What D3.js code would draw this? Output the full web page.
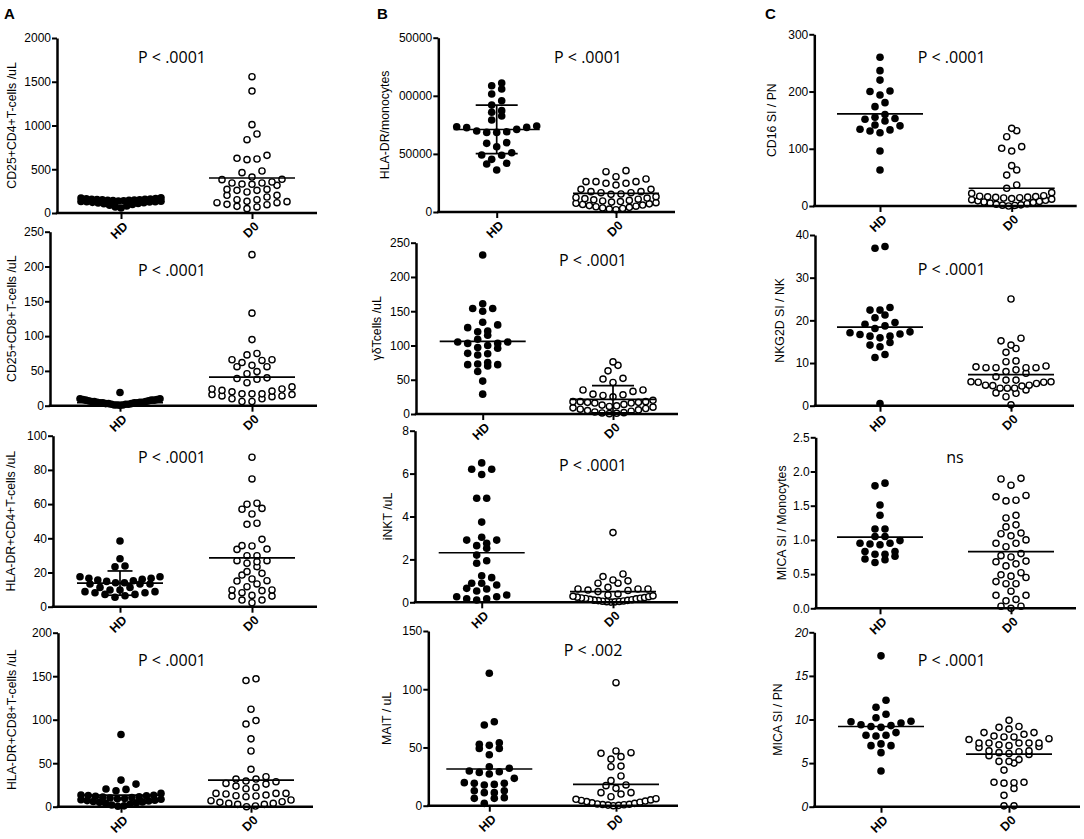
<!DOCTYPE html>
<html><head><meta charset="utf-8">
<script src="https://cdn.jsdelivr.net/npm/d3@7/dist/d3.min.js"></script>
<style>body{margin:0;background:#fff}svg{display:block}</style>
</head><body>
<script>
// ---------------- DATA ----------------
const categories = ["HD", "D0"];

// Panel A
const a1HD = [172,175,165,162,160,158,156,154,152,150,148,146,144,142,140,138,135,132,130,128,125,122,118,114,110,105,98,90,80,70,58];
const a1D0 = [1558,1394,1010,903,838,625,610,617,659,480,461,411,381,343,331,316,328,343,354,385,270,259,240,202,183,202,259,270,152,133,118,95,76,50,69,99,118,130,152];
const a1Means = [126, 400];
const a1Ticks = [0,500,1000,1500,2000];

const a2HD = [19,10,10,9,9,8,8,8,7,7,6,6,6,5,5,5,4,4,4,4,3,3,3,2,2,2,1,1,1,0.5];
const a2D0 = [217,133,95,73,75,66,62,56,56,58,65,66,49,46,40,38,39,27,24,21,20,22,24,33,17,16,14,13,10,6,6,10,14,16,17,17];
const a2Means = [4.5, 41];
const a2Ticks = [0,50,100,150,200,250];

const a3HD = [38.4,28,23.4,23.8,17.5,16.6,16,15.2,14,13.3,13.3,13.3,14,14.8,15.6,16.6,17.5,11.3,9.8,8.8,8.2,7.2,5.5,6.4,7.2,8.2,8.8,9.8,11.3];
const a3D0 = [87.4,74.7,59.9,57,54.2,57.5,60.5,48.2,48.8,39.4,35.5,33.5,33.7,35.7,29.8,29.8,26.9,25.4,23.4,26.3,26.9,19.5,18.5,20.5,16.2,15,11.7,13.3,15.2,8.2,6.2,9.8,9.4,9.8,6.2,6.6,3.9,2.3,3.9];
const a3Means = [13.8, 28.5];
const a3HDsd = [6.7, 20.9];
const a3Ticks = [0,20,40,60,80,100];

const a4HD = [83,30.6,20.3,18.4,15.3,19.9,26,13.5,13,12.8,12.5,12,11.5,11,10.5,10,9.5,9,8.5,8,7.5,7,6.5,6,5.5,5,4.5,4,3,2,1,0.5];
const a4D0 = [145,147,112,95,99,78,64,43,34.5,31.8,28.7,26,26.8,29.5,31.8,22.2,15.3,14.6,12.6,13.4,15.3,15.3,20.7,23.7,12.3,7.7,5.7,3.8,2.7,0.8,0,2.7,3.8,5,6.9,11.5];
const a4Means = [13.4, 30.6];
const a4Ticks = [0,50,100,150,200];

// Panel B
const b1HD = [108700,111000,101500,105800,95800,92000,85800,87200,82600,79200,73400,72600,69100,68500,71100,68500,69700,72800,74000,59100,59700,56200,51000,49000,48800,45300,41900,41300,36100];
const b1D0 = [35600,34700,28400,26100,24700,23200,24700,26100,26100,30400,19500,17500,16600,15200,13200,15500,16600,17500,19500,12500,12000,11500,11000,10500,10000,9500,9000,8500,8000,7500,7000,6500,6000,5500,5000,4500,4000,3500,3000,2500,2000];
const b1Means = [71000, 16000];
const b1HDsd = [50200, 92000];
const b1Ticks = [0,50000,100000,150000];
const b1TickLabels = ["0","50000","00000","50000"];

const b2HD = [232,154,150,154,161,130,121,120,126,134,109,105,103,103,105,115,100,96,97,88.5,86,88,75,72,70,72,73,62,48,29];
const b2D0 = [71,76,52,51,63,46,35,33,35,29,27,25,28,17,16,20,18,18,18,16,17,14,13,12,11,10,9,8,7,6,5,4,3,2,1.5,1,0.5];
const b2Means = [106, 21.4];
const b2D0sd = [1.5, 41.3];
const b2Ticks = [0,50,100,150,200,250];

const b3HD = [6.5,6.2,6.2,5.96,4.85,4.85,3.74,2.9,2.75,3.03,2.9,2.64,2.52,2.2,1.94,1.82,1.15,1.24,0.89,0.65,0.62,0.81,0.89,0.53,0.34,0.26,0.16,0.11,0.16,0.26];
const b3D0 = [3.25,1.2,1.32,1.0,0.89,0.89,1.04,0.7,0.62,0.57,0.5,0.62,0.62,0.55,0.34,0.39,0.3,0.28,0.26,0.24,0.22,0.2,0.19,0.18,0.16,0.14,0.12,0.1,0.09,0.08,0.06,0.05,0.04,0.03,0.02,0.01];
const b3Means = [2.31, 0.5];
const b3Ticks = [0,2,4,6,8];

const b4HD = [113.7,69.3,72.1,52.7,49.2,54.1,49.2,51.8,43.8,32.1,33.5,29.2,28.6,29.8,27.2,23.5,18.3,19.2,19.2,19.8,17.8,12.9,11.2,11.2,12.9,6.3,6.3,6.9,2];
const b4D0 = [105.6,42.1,47,45,45.5,40,34,33.5,25.5,21.5,17.8,17.2,14.9,11.2,7.7,10,11.2,6,5.5,5,4.5,4,3.5,3,2.5,2,1.5,1.2,1,0.8,0.5,0.3,0];
const b4Means = [31.5, 18.3];
const b4Ticks = [0,50,100,150];

// Panel C
const c1HD = [260,236.5,220,200,194,201,173.6,180.6,155,151.5,148.5,153,160,140,133,128,131,134,141.5,96,63];
const c1D0 = [135.7,131.6,121,100.8,96,103.7,70.5,54,63,36.7,30.9,22,18,23.3,17,16.5,16,15.5,15,14.5,14,13,12,11,10,9,8,7,6,5,4,3,2,1.5,1,0];
const c1Means = [161, 31];
const c1Ticks = [0,100,200,300];

const c2HD = [36.9,37.3,23,22.4,22.4,21.25,20.6,19.1,19.5,18.7,18.1,17.3,17.1,16.8,16.3,16.3,15.9,16.7,14.8,13.8,14.2,12,11.3,0.5];
const c2D0 = [25,15.8,15.2,14.2,13.4,12.5,10.3,10.5,9.3,8.9,8.9,8.4,8,8.9,8.9,9.1,7.6,6.8,6,5.6,5.5,5.2,5.5,5.6,6,4.8,4.7,4.1,4.1,3,2.1,2.9,3.7,4.1,4.6,4.8,0.2];
const c2Means = [18.4, 7.3];
const c2Ticks = [0,10,20,30,40];

const c3HD = [1.83,1.79,1.51,1.36,1.16,1.16,1.05,0.99,1.05,0.95,0.93,0.94,0.95,0.79,0.83,0.83,0.79,0.72,0.67,0.71,0.76];
const c3D0 = [1.89,1.9,1.8,1.63,1.57,1.58,1.65,1.36,1.32,1.19,1.22,1.09,1.1,1.06,1.0,0.95,0.9,0.95,0.8,0.75,0.77,0.69,0.62,0.68,0.65,0.52,0.47,0.39,0.36,0.36,0.45,0.49,0.25,0.19,0.19,0.13,0.11,0.03,0,0.03];
const c3Means = [1.04, 0.83];
const c3Ticks = [0,0.5,1.0,1.5,2.0,2.5];

const c4HD = [17.3,12.2,11.4,10.6,10.2,9.8,9.6,9.75,9.3,9.1,9.4,9.2,8.5,8.2,8.1,8.2,7.2,7.0,7.0,6.2,4.1];
const c4D0 = [9.9,9.2,8.9,9.1,8.3,8,7.8,7.3,7.3,7.1,7.3,8.5,8.5,7.3,7.3,7.7,8,8.1,6.9,6.4,6.2,6,5.85,6.1,6.3,6.4,6.8,7,5.2,5,5.2,5.4,4.2,2.8,2.7,2.1,2.75,2.8,1.3,0.1,0.1];
const c4Means = [9.2, 6.04];
const c4Ticks = [0,5,10,15,20];

const yTitles = ["CD25+CD4+T-cells /uL","CD25+CD8+T-cells /uL","HLA-DR+CD4+T-cells /uL","HLA-DR+CD8+T-cells /uL",
                 "HLA-DR/monocytes","γδTcells /uL","iNKT /uL","MAIT / uL",
                 "CD16 SI / PN","NKG2D SI / NK","MICA SI / Monocytes","MICA SI / PN"];
const pTexts = ["P < .0001","P < .0001","P < .0001","P < .0001",
                "P < .0001","P < .0001","P < .0001","P < .002",
                "P < .0001","P < .0001","ns","P < .0001"];
const panelLetters = ["A","B","C"];

// ---------------- LAYOUT ----------------
const panels = [
 {hd:a1HD,d0:a1D0,means:a1Means,ticks:a1Ticks,domain:[0,2000],ax:57,top:38,bot:213,xEnd:317,hdX:121,d0X:252,px:172,py:63,tx:12},
 {hd:a2HD,d0:a2D0,means:a2Means,ticks:a2Ticks,domain:[0,250],ax:50,top:231.7,bot:405.7,xEnd:317,hdX:120,d0X:252,px:172,py:275.7,tx:12},
 {hd:a3HD,d0:a3D0,means:a3Means,ticks:a3Ticks,domain:[0,100],ax:53,top:435.7,bot:606.7,xEnd:317,hdX:120,d0X:252,px:172,py:463,tx:11,sd:{HD:a3HDsd},cap:12.5},
 {hd:a4HD,d0:a4D0,means:a4Means,ticks:a4Ticks,domain:[0,200],ax:58,top:632.7,bot:806.7,xEnd:313,hdX:121,d0X:251,px:172,py:666,tx:12},
 {hd:b1HD,d0:b1D0,means:b1Means,ticks:b1Ticks,labels:b1TickLabels,domain:[0,150000],ax:438.3,top:37.7,bot:212,xEnd:675,hdX:496.7,d0X:616,px:588,py:63,tx:385,sd:{HD:b1HDsd},cap:21},
 {hd:b2HD,d0:b2D0,means:b2Means,ticks:b2Ticks,domain:[0,250],ax:416,top:242.7,bot:414,xEnd:678,hdX:482.7,d0X:613,px:593,py:266,tx:377,sd:{D0:b2D0sd},cap:21},
 {hd:b3HD,d0:b3D0,means:b3Means,ticks:b3Ticks,domain:[0,8],ax:415,top:430.7,bot:602.3,xEnd:678,hdX:481.7,d0X:613,px:593,py:470.7,tx:388},
 {hd:b4HD,d0:b4D0,means:b4Means,ticks:b4Ticks,domain:[0,150],ax:428.3,top:631,bot:805.7,xEnd:678,hdX:489.3,d0X:616,px:593,py:656,tx:387},
 {hd:c1HD,d0:c1D0,means:c1Means,ticks:c1Ticks,domain:[0,300],ax:814.3,top:34.3,bot:206,xEnd:1076.7,hdX:880,d0X:1011.7,px:951.7,py:62.7,tx:772},
 {hd:c2HD,d0:c2D0,means:c2Means,ticks:c2Ticks,domain:[0,40],ax:815,top:235,bot:405.7,xEnd:1074,hdX:880,d0X:1011,px:951.7,py:275.3,tx:780},
 {hd:c3HD,d0:c3D0,means:c3Means,ticks:c3Ticks,domain:[0,2.5],ax:815.7,top:437.3,bot:608.3,xEnd:1076,hdX:880,d0X:1011,px:955,py:463.3,tx:782,fmt:".1f"},
 {hd:c4HD,d0:c4D0,means:c4Means,ticks:c4Ticks,domain:[0,20],ax:814.3,top:632.3,bot:806.7,xEnd:1080,hdX:881,d0X:1009,px:951.7,py:666,tx:778,italic:true}
];
const letterPos = [[4,19],[377,19],[765,19]];

const FONT = "'Liberation Sans', Arial, sans-serif";
const AXW = 2.5;
const svg = d3.select("body").append("svg").attr("width",1084).attr("height",839);
svg.append("rect").attr("width",1084).attr("height",839).attr("fill","#fff");

// GraphPad-like scatter layout: group values into rows, spread each row around the category centre
function swarm(values, y, spacing, maxHalf, thresh) {
  const pts = values.map(v => ({v, py: y(v)})).sort((a,b) => a.v - b.v);
  const bins = [];
  let cur = null;
  pts.forEach(p => {
    if (cur && (cur[0].py - p.py) < thresh) cur.push(p);
    else { cur = [p]; bins.push(cur); }
  });
  const out = [];
  bins.forEach(bin => {
    const n = bin.length;
    const s = n > 1 ? Math.min(spacing, 2*maxHalf/(n-1)) : 0;
    const slots = d3.range(n).map(i => (i - (n-1)/2) * s);
    slots.sort((a,b) => Math.abs(a) - Math.abs(b) || a - b);
    bin.forEach((p,i) => out.push({v:p.v, py:p.py, dx:slots[i]}));
  });
  return out;
}

panels.forEach((P, k) => {
  const g = svg.append("g");
  const y = d3.scaleLinear().domain(P.domain).range([P.bot, P.top]);
  const x = d3.scalePoint().domain(categories).range([P.hdX, P.d0X]);
  const fmt = P.fmt ? d3.format(P.fmt) : d3.format("d");

  // points
  [["HD",P.hd],["D0",P.d0]].forEach(([cat, vals]) => {
    const pts = swarm(vals, y, 10, 40, 7);
    const filled = cat === "HD";
    g.append("g").selectAll("circle").data(pts).join("circle")
      .attr("cx", d => x(cat) + d.dx).attr("cy", d => y(d.v))
      .attr("r", filled ? 3.8 : 3.1)
      .attr("fill", filled ? "#000" : "#fff")
      .attr("stroke", "#000").attr("stroke-width", filled ? 0 : 1.4);
  });

  // mean lines
  categories.forEach((cat, i) => {
    const m = P.means[i];
    g.append("line").attr("x1", x(cat)-43).attr("x2", x(cat)+43).attr("y1", y(m)).attr("y2", y(m))
      .attr("stroke","#000").attr("stroke-width",1.7);
    if (P.sd && P.sd[cat]) {
      const [lo, hi] = P.sd[cat];
      g.append("line").attr("x1",x(cat)).attr("x2",x(cat)).attr("y1",y(lo)).attr("y2",y(hi))
        .attr("stroke","#000").attr("stroke-width",1.7);
      [lo, hi].forEach(v => g.append("line").attr("x1",x(cat)-P.cap).attr("x2",x(cat)+P.cap)
        .attr("y1",y(v)).attr("y2",y(v)).attr("stroke","#000").attr("stroke-width",1.7));
    }
  });

  // y axis
  const yAxis = d3.axisLeft(y).tickValues(P.ticks).tickSize(5).tickSizeOuter(0).tickPadding(1)
      .tickFormat((d,i) => P.labels ? P.labels[i] : fmt(d));
  const ga = g.append("g").attr("transform", `translate(${P.ax},0)`).call(yAxis);
  ga.select(".domain").attr("stroke","#000").attr("stroke-width",AXW);
  ga.selectAll(".tick line").attr("stroke","#000").attr("stroke-width",2);
  ga.selectAll(".tick text").attr("fill","#000").style("font-family",FONT).style("font-size","12px")
    .style("font-style", P.italic ? "italic" : "normal");

  // x axis
  g.append("line").attr("x1",P.ax-1.2).attr("x2",P.xEnd).attr("y1",P.bot).attr("y2",P.bot)
    .attr("stroke","#000").attr("stroke-width",AXW);
  const xAxis = d3.axisBottom(x).tickSize(6).tickSizeOuter(0).tickFormat(d => d);
  const gx = g.append("g").attr("transform", `translate(0,${P.bot})`).call(xAxis);
  gx.select(".domain").remove();
  gx.selectAll(".tick line").attr("stroke","#000").attr("stroke-width",2);
  gx.selectAll(".tick text").attr("fill","#000").style("font-family",FONT).style("font-size","12.5px")
    .style("font-weight","bold")
    .attr("text-anchor","end").attr("dy","0.35em")
    .attr("transform","translate(4,11) rotate(-45)").attr("y",0).attr("x",0);

  // y title
  g.append("text").attr("transform", `translate(${P.tx},${(P.top+P.bot)/2}) rotate(-90)`)
    .attr("text-anchor","middle").attr("dy","0.35em")
    .style("font-family",FONT).style("font-size","12.3px").text(yTitles[k]);

  // p value
  g.append("text").attr("x",P.px).attr("y",P.py).attr("text-anchor","middle")
    .style("font-family","'Open Sans', sans-serif").style("font-size","16px").text(pTexts[k]);
});

panelLetters.forEach((L,i) => {
  svg.append("text").attr("x",letterPos[i][0]).attr("y",letterPos[i][1])
    .style("font-family",FONT).style("font-size","15px").style("font-weight","bold").text(L);
});
</script>
</body></html>
